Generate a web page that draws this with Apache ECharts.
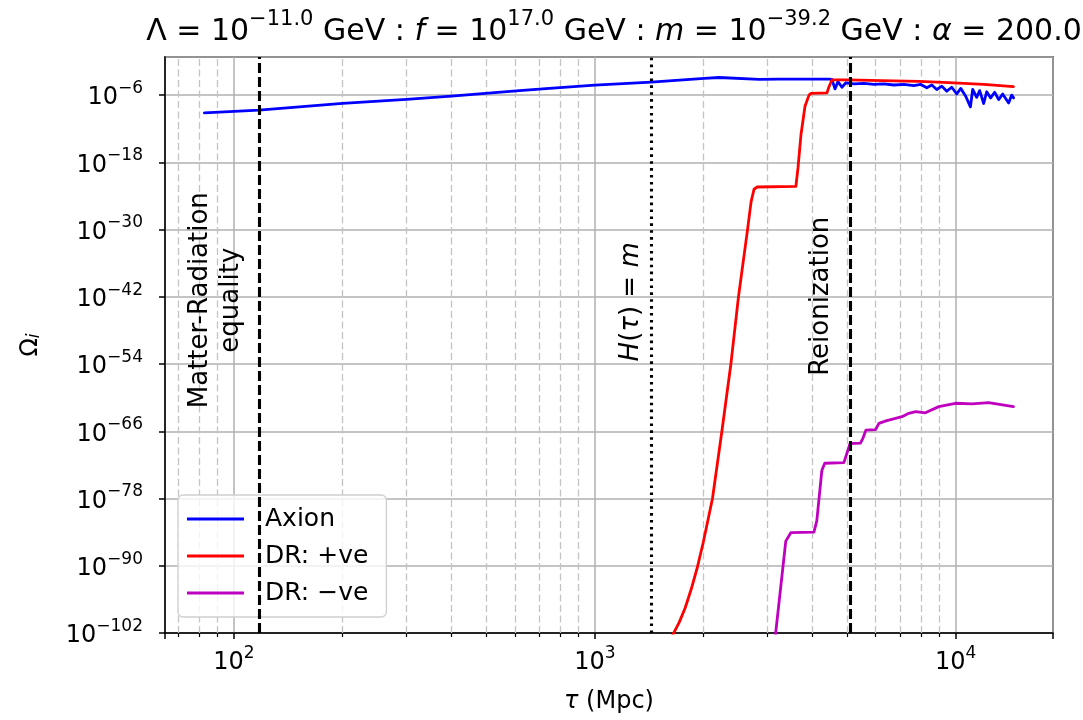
<!DOCTYPE html>
<html>
<head>
<meta charset="utf-8">
<script src="https://cdn.jsdelivr.net/npm/echarts@6/dist/echarts.min.js"></script>
<style>
html,body{margin:0;padding:0;background:#fff;}
#chart{width:1083px;height:720px;}
#err{position:absolute;left:300px;top:200px;color:#a00;font:14px monospace;white-space:pre;}
</style>
</head>
<body>
<div id="chart"></div>
<div id="err"></div>
<script>
window.onerror = function (m, s, l, c, e) { document.getElementById('err').textContent += m + ' @' + l + ':' + c + '\n'; };
// ---- data (tau in Mpc, log10 of Omega) ----
const tauAxion = [82.8, 117.3, 200, 300.6, 400.6, 618, 748, 1000, 1433, 2010, 2208, 2853, 3236, 3680, 4457,
  4539, 4628, 4717, 4837, 4962, 5222, 5566, 5932, 6322, 6738, 7181, 7653, 8003, 8314, 8583, 8860, 9149, 9443,
  9748, 10065, 10323, 10658, 10982, 11143, 11430, 11651, 11952, 12183, 12496, 12819, 13152, 13490, 13750,
  14016, 14287, 14470];
const logAxion = [-9.16, -8.68, -7.48, -6.77, -6.18, -5.2, -4.8, -4.22, -3.68, -3.0, -2.86, -3.2, -3.15, -3.14, -3.14,
  -3.2, -4.9, -3.6, -4.6, -3.8, -4.0, -3.9, -4.1, -4.0, -4.2, -4.1, -4.3, -4.1, -4.7, -4.2, -5.0, -4.4, -5.3,
  -4.6, -5.8, -4.8, -6.2, -8.1, -5.0, -6.4, -5.2, -7.5, -5.4, -6.5, -5.5, -6.8, -5.8, -6.6,
  -7.4, -6.0, -6.5];

const tauDRplus = [1607, 1660, 1713, 1780, 1849, 1921, 1996, 2118, 2249, 2382, 2500, 2649, 2710, 2761, 2818,
  3606, 3655, 3726, 3822, 3921, 3972, 4397, 4454, 4539, 5058, 6237, 7907, 9572, 11940, 14450];
const logDRplus = [-103.5, -101.8, -100.1, -97.5, -94.2, -90.4, -85.9, -78, -66, -54, -42, -30, -25, -22.8, -22.4,
  -22.3, -19, -13, -8, -6.0, -5.7, -5.6, -4.5, -3.3, -3.3, -3.42, -3.55, -3.78, -4.1, -4.5];

const tauDRminus = [3148, 3170, 3381, 3491, 4046, 4121, 4256, 4335, 4898, 4989, 5093, 5445, 5534, 5636, 5998,
  6124, 6442, 6808, 7096, 7413, 7745, 8241, 8974, 9977, 11092, 12331, 14454];
const logDRminus = [-105, -102, -85.6, -84.1, -84.0, -82, -73.0, -71.7, -71.6, -70, -68.2, -68.1, -67.2, -65.8, -65.7,
  -64.6, -64.1, -63.7, -63.4, -62.8, -62.5, -62.7, -61.6, -61.0, -61.1, -60.9, -61.6];

const seriesNames = ['Axion', 'DR: +ve', 'DR: \u2212ve'];
const seriesColors = ['#0000ff', '#ff0000', '#bf00bf'];

const eventNames = ['Matter-Radiation\nequality', 'H(\u03c4) = m', 'Reionization'];
const eventTau = [117.5, 1436, 5113];
const eventLabelTau = [89.2, 1262, 4233];
const eventLabelLog = [-42.6, -42.9, -41.9];

const xMajorTicks = [100, 1000, 10000];
const xMinorTicks = [70, 80, 90, 200, 300, 400, 500, 600, 700, 800, 900,
  2000, 3000, 4000, 5000, 6000, 7000, 8000, 9000];
const yTickExps = [-102, -90, -78, -66, -54, -42, -30, -18, -6];

const xMin = 64.4, xMax = 18600;
const yMinExp = -102, yMaxExp = 0.8, yStepExp = 12;   // y axis: log10(Omega), i.e. a log scale

// ---- build ----
function pairs(t, l) { return t.map((v, i) => [v, l[i]]); }
const FONT = 'DejaVu Sans';
const sup = { fontSize: 17, fontFamily: FONT, color: '#000', lineHeight: 14, verticalAlign: 'top' };
const base = { fontSize: 24, fontFamily: FONT, color: '#000', lineHeight: 30, verticalAlign: 'bottom' };

function yFmt(v) {
  const e = Math.round(v);
  if (Math.abs(v - e) > 1e-6 || yTickExps.indexOf(e) < 0) return '';
  return '{b|10}{s|' + (e < 0 ? '\u2212' : '') + Math.abs(e) + '}';
}
function xFmt(v) {
  const lg = Math.log10(v);
  const e = Math.round(lg);
  if (Math.abs(lg - e) > 1e-3 || xMajorTicks.indexOf(Math.pow(10, e)) < 0) return '';
  return '{b|10}{s|' + e + '}';
}

const lineSeries = [[tauAxion, logAxion], [tauDRplus, logDRplus], [tauDRminus, logDRminus]].map((d, i) => ({
  name: seriesNames[i], type: 'line', data: pairs(d[0], d[1]), symbol: 'none', showSymbol: false,
  lineStyle: { color: seriesColors[i], width: 2.8, join: 'round', cap: 'round' }, itemStyle: { color: seriesColors[i] },
  z: 3, clip: true, animation: false
}));

const dashStyles = [[10, 4], [2.6, 4.3], [10, 4]];

const option = {
  backgroundColor: '#fff',
  animation: false,
  title: {
    left: 609, top: 4, textAlign: 'center',
    text: '{n|\u039b = 10}{s|\u221211.0}{n| GeV : }{i|f}{n| = 10}{s|17.0}{n| GeV : }{i|m}{n| = 10}{s|\u221239.2}{n| GeV : }{i|\u03b1}{n| = 200.0}',
    textStyle: {
      rich: {
        n: { fontSize: 30, fontWeight: 'normal', fontFamily: FONT, color: '#000', lineHeight: 38, verticalAlign: 'bottom' },
        i: { fontSize: 30, fontWeight: 'normal', fontFamily: FONT, fontStyle: 'italic', color: '#000', lineHeight: 38, verticalAlign: 'bottom' },
        s: { fontSize: 21, fontWeight: 'normal', fontFamily: FONT, color: '#000', lineHeight: 20, verticalAlign: 'top' }
      }
    }
  },
  grid: { left: 165, right: 30, top: 57, bottom: 87, containLabel: false, outerBoundsMode: 'none',
    show: true, borderColor: '#000', borderWidth: 1.5, backgroundColor: '#fff' },
  legend: {
    data: seriesNames, orient: 'vertical', left: 178, top: 495,
    itemWidth: 57, itemHeight: 26, itemGap: 11,
    padding: [11, 18, 11, 9],
    backgroundColor: 'rgba(255,255,255,0.8)', borderColor: '#d0d0d0', borderWidth: 1.3, borderRadius: 5,
    textStyle: { fontSize: 25, fontFamily: FONT, color: '#000', padding: [0, 0, 0, 16], lineHeight: 26 },
    icon: 'path://M0,0 L57,0 L57,3 L0,3 Z'
  },
  xAxis: [{
    type: 'log', min: xMin, max: xMax, logBase: 10,
    name: '{t|\u03c4}{n| (Mpc)}', nameLocation: 'middle', nameGap: 57, nameMoveOverlap: false,
    nameTextStyle: { rich: { t: { fontSize: 24, fontFamily: FONT, fontStyle: 'italic', color: '#000' }, n: { fontSize: 24, fontFamily: FONT, color: '#000' } } },
    axisLine: { show: true, onZero: false, lineStyle: { color: '#000', width: 1.5 } },
    axisTick: { show: true, length: 6, lineStyle: { color: '#000', width: 1.5 } },
    axisLabel: { formatter: xFmt, margin: 12, rich: { b: base, s: sup } },
    splitLine: { show: true, lineStyle: { color: '#b0b0b0', width: 1.5 } }
  }, {
    type: 'log', min: xMin, max: xMax, logBase: 10, position: 'bottom', gridIndex: 0,
    axisLine: { show: false, onZero: false },
    axisTick: { show: true, length: 4, customValues: xMinorTicks, lineStyle: { color: '#000', width: 1.2 } },
    axisLabel: { show: false },
    splitLine: { show: false }
  }],
  yAxis: {
    type: 'value', min: yMinExp, max: yMaxExp, interval: yStepExp,
    name: '{n|\u03a9}{sub|i}', nameLocation: 'middle', nameRotate: 90, nameGap: 122, nameMoveOverlap: false,
    nameTextStyle: { rich: {
      n: { fontSize: 24, fontFamily: FONT, color: '#000' },
      sub: { fontSize: 17, fontFamily: FONT, fontStyle: 'italic', color: '#000', padding: [8, 0, 0, 0] } } },
    axisLine: { show: true, onZero: false, lineStyle: { color: '#000', width: 1.5 } },
    axisTick: { show: true, length: 6, lineStyle: { color: '#000', width: 1.5 } },
    axisLabel: { formatter: yFmt, margin: 22, showMinLabel: true, showMaxLabel: false, rich: { b: base, s: sup } },
    splitLine: { show: true, lineStyle: { color: '#b0b0b0', width: 1.5 } }
  },
  series: [
    {
      name: 'minorGrid', type: 'line', data: [], z: 1, silent: true,
      markLine: {
        silent: true, symbol: ['none', 'none'], animation: false, z: 1,
        label: { show: false },
        lineStyle: { type: [7, 3.5], color: '#c4c4c4', width: 1.3 },
        data: xMinorTicks.map(v => ({ xAxis: v }))
      }
    },
    ...lineSeries,
    {
      name: 'events', type: 'line', data: [], z: 4, silent: true,
      markLine: {
        silent: true, symbol: ['none', 'none'], animation: false, label: { show: false }, z: 4,
        data: eventTau.map((v, i) => ({ xAxis: v, lineStyle: { type: dashStyles[i], color: '#000', width: 3.1 } }))
      }
    },
    {
      name: 'eventLabels', type: 'scatter', symbolSize: 0, z: 5, silent: true,
      itemStyle: { opacity: 1 },
      data: eventNames.map((n, i) => ({ value: [eventLabelTau[i], eventLabelLog[i]], name: n })),
      label: {
        show: true, position: 'inside', rotate: 90, color: '#000', opacity: 1,
        fontSize: 26, fontFamily: FONT, lineHeight: 31, align: 'center', verticalAlign: 'middle',
        formatter: p => p.dataIndex === 1 ? '{i|H}({i|\u03c4}) = {i|m}' : p.name,
        rich: { i: { fontSize: 26, fontFamily: FONT, fontStyle: 'italic', color: '#000' } }
      }
    }
  ]
};

try {
  const chart = echarts.init(document.getElementById('chart'), null, { renderer: 'canvas' });
  chart.setOption(option);
} catch (e) {
  document.getElementById('err').textContent += 'EXC: ' + e.message + '\n' + (e.stack || '').slice(0, 600);
}
</script>
</body>
</html>
